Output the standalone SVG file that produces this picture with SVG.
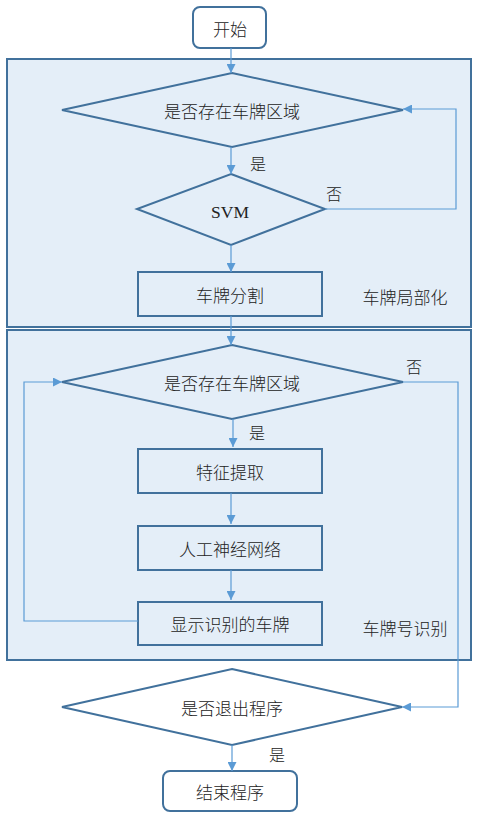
<svg xmlns="http://www.w3.org/2000/svg" width="479" height="821" viewBox="0 0 479 821">
<defs>
<style>
.node{fill:none;stroke:#41719c;stroke-width:2}
.term{fill:#ffffff;stroke:#41719c;stroke-width:2}
.dia{fill:none;stroke:#41719c;stroke-width:2}
.box{fill:#e4eef8;stroke:#41719c;stroke-width:2}
.con{fill:none;stroke:#5b9bd5;stroke-width:1.2}
text{font-family:"Noto Sans CJK SC","Noto Sans",sans-serif;font-size:17px;font-weight:300;fill:#222222;text-anchor:middle;dominant-baseline:central}
.lbl{font-size:16px}
.svm{font-family:"Liberation Serif",serif;font-size:17.5px;font-weight:400}
</style>
<marker id="arr" viewBox="0 0 10 10" refX="10" refY="5" markerWidth="9" markerHeight="9" markerUnits="userSpaceOnUse" orient="auto">
<path d="M0,0 L10,5 L0,10 z" fill="#5b9bd5"/>
</marker>
</defs>
<rect width="479" height="821" fill="#ffffff"/>
<g id="group1">
<rect class="box" x="7" y="59" width="464" height="268"/>
<text x="405" y="296">车牌局部化</text>
</g>
<g id="group2">
<rect class="box" x="7" y="330" width="464" height="330"/>
<text x="405" y="627">车牌号识别</text>
</g>
<g id="start">
<rect class="term" x="193" y="7" width="73" height="41" rx="7"/>
<text x="230" y="28">开始</text>
</g>
<g id="decision1">
<polygon class="dia" points="232,73 403,110 232,147 62,110"/>
<text x="232" y="110">是否存在车牌区域</text>
</g>
<g id="svm">
<polygon class="dia" points="231,174 325,209 231,245 137,209"/>
<text class="svm" x="230" y="212">SVM</text>
</g>
<g id="segment">
<rect class="node" x="138" y="272" width="184" height="44"/>
<text x="230" y="294">车牌分割</text>
</g>
<g id="decision2">
<polygon class="dia" points="232,345 403,382 232,419 62,382"/>
<text x="232" y="382">是否存在车牌区域</text>
</g>
<g id="feature">
<rect class="node" x="138" y="449" width="184" height="44"/>
<text x="230" y="471">特征提取</text>
</g>
<g id="ann">
<rect class="node" x="138" y="526" width="184" height="44"/>
<text x="230" y="548">人工神经网络</text>
</g>
<g id="display">
<rect class="node" x="138" y="602" width="184" height="43"/>
<text x="230" y="623">显示识别的车牌</text>
</g>
<g id="decision3">
<polygon class="dia" points="232,669 402,707 232,745 62,707"/>
<text x="232" y="707">是否退出程序</text>
</g>
<g id="end">
<rect class="term" x="163" y="771" width="134" height="40" rx="7"/>
<text x="230" y="791">结束程序</text>
</g>
<g id="connectors">
<line class="con" x1="231" y1="48" x2="231" y2="73" marker-end="url(#arr)"/>
<line class="con" x1="231" y1="147" x2="231" y2="174" marker-end="url(#arr)"/>
<polyline class="con" points="325,209 456,209 456,109 403,109" marker-end="url(#arr)"/>
<line class="con" x1="231" y1="245" x2="231" y2="272" marker-end="url(#arr)"/>
<line class="con" x1="231" y1="316" x2="231" y2="345" marker-end="url(#arr)"/>
<line class="con" x1="233" y1="419" x2="233" y2="447" marker-end="url(#arr)"/>
<line class="con" x1="231" y1="493" x2="231" y2="524" marker-end="url(#arr)"/>
<line class="con" x1="231" y1="570" x2="231" y2="600" marker-end="url(#arr)"/>
<polyline class="con" points="138,621 24,621 24,382 62,382" marker-end="url(#arr)"/>
<polyline class="con" points="403,382 458,382 458,707 402,707" marker-end="url(#arr)"/>
<line class="con" x1="232" y1="745" x2="232" y2="771" marker-end="url(#arr)"/>
<text class="lbl" x="258" y="163">是</text>
<text class="lbl" x="334" y="193">否</text>
<text class="lbl" x="414" y="366">否</text>
<text class="lbl" x="257" y="432">是</text>
<text class="lbl" x="277" y="754">是</text>
</g>
</svg>
